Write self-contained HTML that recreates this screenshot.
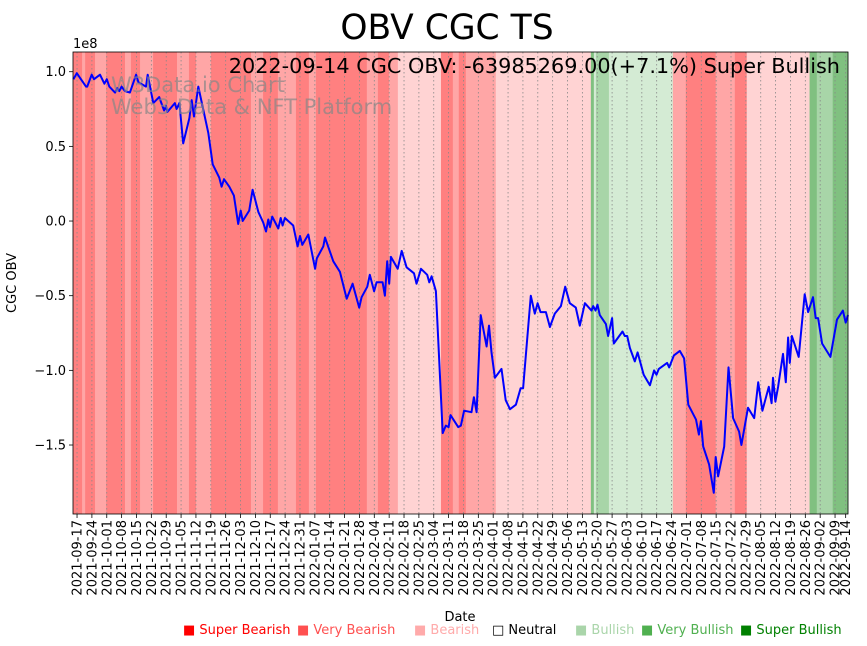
<!DOCTYPE html>
<html><head><meta charset="utf-8"><style>
body{margin:0;background:#fff;}
svg{display:block;font-family:"DejaVu Sans","Liberation Sans",sans-serif;}
</style></head><body>
<svg id="chart" width="867" height="646" xmlns="http://www.w3.org/2000/svg">
<text x="447" y="39" font-size="34.5" text-anchor="middle">OBV CGC TS</text>
<text x="73" y="48" font-size="13">1e8</text>
<g id="bands"></g>
<g id="grid"></g>
<g id="line"></g>
<g id="axes"></g>
<text x="111" y="92" font-size="21" fill="#888" fill-opacity="0.7">W3Data.io Chart</text>
<text x="111" y="114" font-size="21" fill="#888" fill-opacity="0.7">Web3 Data &amp; NFT Platform</text>
<text x="840" y="73" font-size="20.8" text-anchor="end">2022-09-14 CGC OBV: -63985269.00(+7.1%) Super Bullish</text>
<text x="16" y="283" font-size="13" text-anchor="middle" transform="rotate(-90 16 283)">CGC OBV</text>
<text x="460" y="621" font-size="13" text-anchor="middle">Date</text>
<g id="legend" font-size="13">
<text x="183" y="634" fill="#ff0000">■ Super Bearish</text>
<text x="297" y="634" fill="#ff5050">■ Very Bearish</text>
<text x="414" y="634" fill="#ffaaaa">■ Bearish</text>
<text x="492" y="634" fill="#000">□ Neutral</text>
<text x="575" y="634" fill="#aad5aa">■ Bullish</text>
<text x="641" y="634" fill="#50b050">■ Very Bullish</text>
<text x="740" y="634" fill="#008000">■ Super Bullish</text>
</g>
</svg>
<script>
// day offsets from 2021-09-17
const obvDays=[-1.7,-0.1,4.2,4.8,6.9,8,10.8,12.9,14,15.2,17.9,19,19.9,21,22.6,24.9,27.8,28.9,32.5,33.3,35.9,38.7,41,41.9,42.5,46.1,46.9,48.2,50,52.9,54,55.1,57.1,61.8,63.9,67,68.1,69.2,71.7,73.9,75.9,77.1,78,81.1,82.7,85.4,87.7,89,90.1,90.9,91.9,94.8,95.9,96.8,97.9,101.8,103.9,105,106.1,108.9,112.1,112.9,116,116.8,120.7,123.8,127,129.8,132.9,134,136.7,137.9,139.9,141.1,143.9,145,146.1,147,147.8,151,152.9,155.2,158.7,159.9,162,164.9,165.9,167,169,172.2,173.7,175,175.9,179.5,180.8,182.3,185.8,186.9,188.2,190.1,192.9,194,195.2,196.8,199.9,201.9,203.9,206.7,208.9,210.1,213.7,215.6,216.9,218.3,220.8,222.7,225,227.9,229.9,232.1,234.9,236.8,239.2,242.3,243.1,244.2,245.1,246.2,249.1,250.1,252,252.8,256.9,258,259.1,260.4,262.7,264,266.9,269.8,271.8,272.9,274,277.9,278.9,281.1,283.9,285.9,287.9,291.5,292.9,293.8,294.9,297.7,299.9,300.8,301.9,304.8,306.8,309,311.8,312.9,316,318.9,320.8,322.8,325.8,327.1,327.8,328.9,330.2,332.5,333.8,334.9,335.7,336.7,339.9,342.7,344.3,346.6,347.9,349,350.9,354.8,357.9,360.7,362,363.1];
// OBV values in units of 1e8
const obvValues=[0.95,0.99,0.90,0.90,0.98,0.95,0.98,0.92,0.95,0.90,0.86,0.89,0.87,0.90,0.87,0.86,0.98,0.93,0.90,0.98,0.79,0.83,0.74,0.77,0.73,0.79,0.75,0.79,0.52,0.69,0.81,0.70,0.90,0.59,0.38,0.29,0.23,0.28,0.23,0.17,-0.02,0.07,0.00,0.07,0.21,0.06,-0.01,-0.07,0.01,-0.04,0.03,-0.05,0.02,-0.03,0.02,-0.03,-0.17,-0.10,-0.16,-0.09,-0.32,-0.25,-0.17,-0.11,-0.27,-0.34,-0.52,-0.42,-0.58,-0.51,-0.44,-0.36,-0.47,-0.41,-0.41,-0.50,-0.27,-0.42,-0.24,-0.32,-0.20,-0.31,-0.35,-0.42,-0.32,-0.36,-0.41,-0.37,-0.47,-1.42,-1.37,-1.38,-1.30,-1.38,-1.37,-1.27,-1.28,-1.18,-1.28,-0.63,-0.84,-0.70,-0.88,-1.05,-0.99,-1.20,-1.26,-1.23,-1.12,-1.12,-0.50,-0.62,-0.55,-0.61,-0.61,-0.71,-0.62,-0.57,-0.44,-0.55,-0.58,-0.70,-0.55,-0.60,-0.57,-0.60,-0.56,-0.63,-0.69,-0.77,-0.65,-0.82,-0.74,-0.77,-0.77,-0.85,-0.94,-0.88,-1.03,-1.10,-1.00,-1.03,-0.99,-0.95,-0.98,-0.90,-0.87,-0.92,-1.23,-1.33,-1.43,-1.34,-1.51,-1.63,-1.82,-1.58,-1.71,-1.51,-0.98,-1.32,-1.41,-1.50,-1.25,-1.32,-1.08,-1.27,-1.11,-1.22,-1.05,-1.21,-1.11,-0.89,-1.08,-0.78,-0.95,-0.77,-0.91,-0.49,-0.61,-0.51,-0.65,-0.65,-0.82,-0.91,-0.66,-0.60,-0.68,-0.63];
// sentiment bands: start day and level (0 super bearish .. 6 super bullish)
const bandStarts=[-1.9,2.4,3.8,8.5,13.7,22.6,25.4,29.7,35.8,47.1,52.7,56,63.1,81.9,87.6,94.6,103.1,109.2,112.5,136.5,141.7,146.9,151.1,171.4,177,179.8,183.1,197.2,242,243.4,244.4,250.5,280.6,286.7,300.8,309.8,315.4,345,348.4,355.9];
const bandLevels=[0,1,0,1,0,1,0,1,0,1,0,1,0,1,0,1,0,1,0,1,0,1,2,0,1,0,1,2,6,4,5,4,1,0,1,0,2,6,5,6];
const yTicks=[1.0,0.5,0.0,-0.5,-1.0,-1.5];
const yTickLabels=["1.0","0.5","0.0","\u22120.5","\u22121.0","\u22121.5"];

const NS="http://www.w3.org/2000/svg";
const L=73,R=848,T=52,B=514;
const d0=-1.9,d1=363.1,v0=-1.962,v1=1.132;
const xs=d=>L+(d-d0)/(d1-d0)*(R-L);
const ys=v=>B-(v-v0)/(v1-v0)*(B-T);
const bandColors=["#ff8080","#ffa6a6","#ffd3d3","#ffffff","#d4ebd4","#a8d5a8","#80c080"];
function mk(tag,attrs,parent){const e=document.createElementNS(NS,tag);for(const k in attrs)e.setAttribute(k,attrs[k]);parent.appendChild(e);return e;}

const gB=document.getElementById('bands');
for(let i=0;i<bandStarts.length;i++){
  const s=bandStarts[i],e=i+1<bandStarts.length?bandStarts[i+1]:d1;
  const r=mk('rect',{x:xs(s),y:T,width:xs(e)-xs(s)+0.3,height:B-T,fill:bandColors[bandLevels[i]]},gB);
  
  
}
const start=Date.UTC(2021,8,17);
const tickDays=[];for(let d=0;d<=362;d+=7)tickDays.push(d);tickDays.push(362);
const gG=document.getElementById('grid'),gA=document.getElementById('axes');
tickDays.forEach(d=>{
  const x=xs(d);
  const gl=mk('line',{x1:x,x2:x,y1:T,y2:B,stroke:'#888',"stroke-width":0.8,"stroke-dasharray":"1.5,2.5"},gG);
  
  
  mk('line',{x1:x,x2:x,y1:B,y2:B+4,stroke:'#000',"stroke-width":0.8},gA);
  const dt=new Date(start+d*86400000).toISOString().slice(0,10);
  const t=mk('text',{x:x+4.5,y:B+6,"font-size":13,"text-anchor":"end",transform:`rotate(-90 ${x+4.5} ${B+6})`},gA);
  t.textContent=dt;
  
  
});
yTicks.forEach((v,i)=>{
  const y=ys(v);
  mk('line',{x1:L-4,x2:L,y1:y,y2:y,stroke:'#000',"stroke-width":0.8},gA);
  const t=mk('text',{x:L-7,y:y+4.5,"font-size":13,"text-anchor":"end"},gA);
  t.textContent=yTickLabels[i];
  
  
});
const fr=mk('rect',{x:L,y:T,width:R-L,height:B-T,fill:'none',stroke:'#000',"stroke-width":0.8},gA);


const pts=obvDays.map((d,i)=>xs(d).toFixed(1)+','+ys(obvValues[i]).toFixed(1)).join(' ');
const pl=mk('polyline',{points:pts,fill:'none',stroke:'#0000ff',"stroke-width":2,"stroke-linejoin":"round"},document.getElementById('line'));


</script>
</body></html>
